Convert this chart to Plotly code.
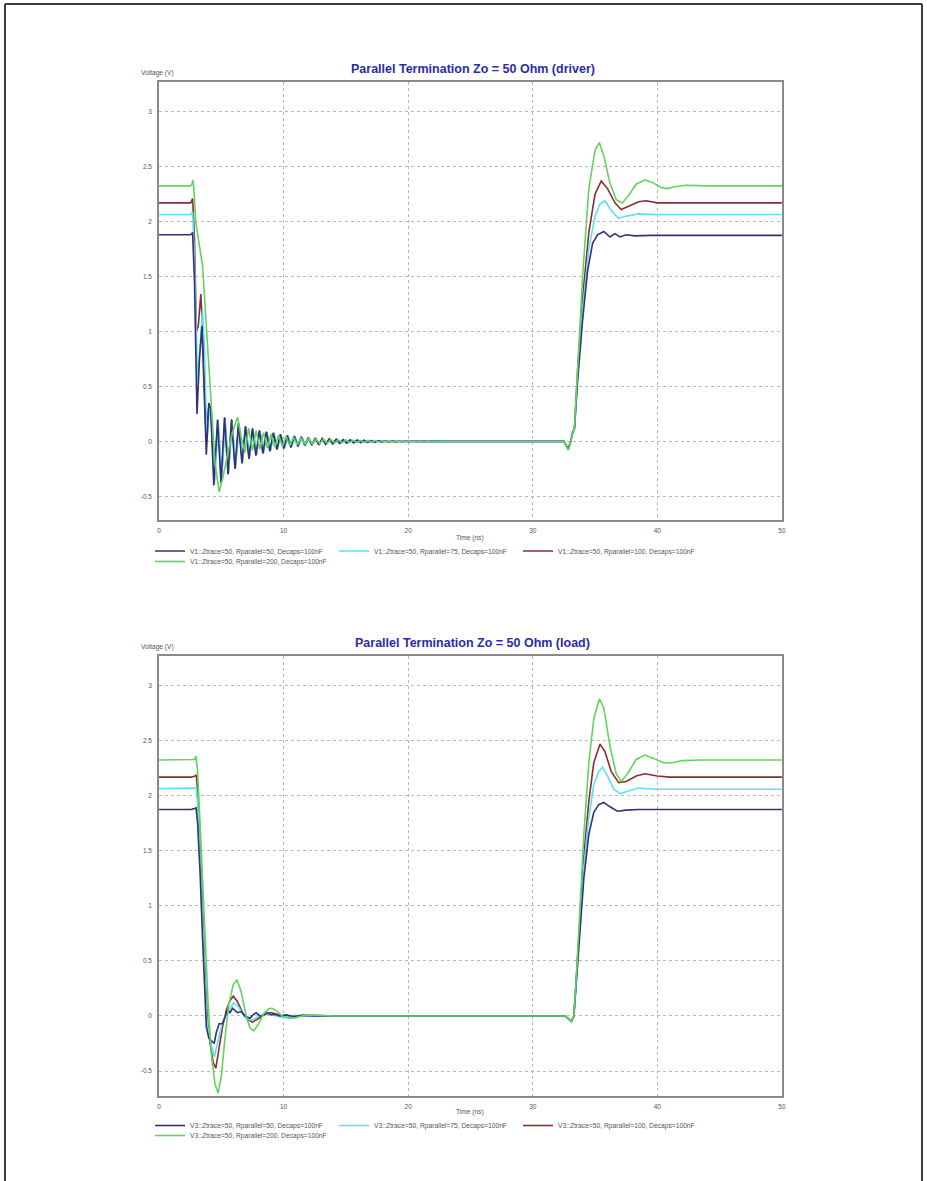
import plotly.graph_objects as go

# ---- Time axis ticks (ns) and voltage ticks (V) ----
X_TICKS = [0, 10, 20, 30, 40, 50]
X_TICK_TEXT = ["0", "10", "20", "30", "40", "50"]
Y_TICKS = [-0.5, 0, 0.5, 1, 1.5, 2, 2.5, 3]
Y_TICK_TEXT = ["-0.5", "0", "0.5", "1", "1.5", "2", "2.5", "3"]

# ---- Driver node (V1) waveforms: (time ns, voltage V) ----
DRV_R50 = [(0, 1.88), (2.55, 1.88), (2.7, 1.9), (2.85, 1.45), (3.05, 0.25), (3.25, 0.75), (3.45, 1.05),
           (3.6, 0.6), (3.8, -0.12), (4.0, 0.35), (4.15, 0.3), (4.4, -0.4), (4.7, 0.2), (4.98, -0.38),
           (5.26, 0.22), (5.54, -0.3), (5.82, 0.2), (6.1, -0.25), (6.38, 0.17), (6.66, -0.2), (6.94, 0.14),
           (7.22, -0.16), (7.5, 0.12), (7.78, -0.13), (8.06, 0.1), (8.34, -0.11), (8.62, 0.09), (8.9, -0.09),
           (9.18, 0.08), (9.46, -0.075), (9.74, 0.065), (10.02, -0.065), (10.3, 0.055), (10.58, -0.055),
           (10.86, 0.05), (11.14, -0.045), (11.42, 0.042), (11.7, -0.04), (11.98, 0.036), (12.26, -0.034),
           (12.54, 0.03), (12.82, -0.03), (13.1, 0.026), (13.38, -0.025), (13.66, 0.022), (13.94, -0.021),
           (14.22, 0.019), (14.5, -0.018), (14.78, 0.016), (15.06, -0.015), (15.34, 0.014), (15.62, -0.013),
           (15.9, 0.012), (16.18, -0.011), (16.46, 0.01), (16.74, -0.009), (17.02, 0.008), (17.3, -0.008),
           (17.58, 0.007), (17.86, -0.006), (18.14, 0.006), (18.42, -0.005), (18.7, 0.005), (18.98, -0.004),
           (19.26, 0.004), (19.54, -0.003), (19.82, 0.003), (20.1, -0.003), (20.38, 0.003), (20.66, -0.002),
           (20.94, 0.002), (21.5, 0.0), (32.5, 0.0),
           (32.85, -0.07), (33.05, 0.0), (33.2, 0.08), (33.35, 0.12), (33.6, 0.55), (34.0, 1.1), (34.4, 1.55),
           (34.8, 1.8), (35.2, 1.88), (35.7, 1.91), (36.2, 1.86), (36.6, 1.89), (37.0, 1.86), (37.5, 1.88),
           (38.2, 1.87), (39.5, 1.875), (50, 1.875)]

DRV_R75 = [(0, 2.065), (2.55, 2.065), (2.7, 2.09), (2.85, 1.65), (3.1, 0.55), (3.35, 1.0), (3.5, 1.2),
           (3.65, 0.85), (3.85, 0.0), (4.05, 0.3), (4.2, 0.28), (4.46, -0.38), (4.76, 0.18), (5.04, -0.34),
           (5.32, 0.19), (5.6, -0.27), (5.88, 0.17), (6.16, -0.22), (6.44, 0.15), (6.72, -0.18), (7.0, 0.12),
           (7.28, -0.14), (7.56, 0.1), (7.84, -0.12), (8.12, 0.09), (8.4, -0.1), (8.68, 0.08), (8.96, -0.08),
           (9.24, 0.07), (9.52, -0.07), (9.8, 0.06), (10.08, -0.06), (10.36, 0.05), (10.64, -0.05),
           (10.92, 0.045), (11.2, -0.04), (11.48, 0.038), (11.76, -0.036), (12.04, 0.032), (12.32, -0.03),
           (12.6, 0.027), (12.88, -0.026), (13.16, 0.023), (13.44, -0.022), (13.72, 0.02), (14.0, -0.019),
           (14.28, 0.017), (14.56, -0.016), (14.84, 0.014), (15.12, -0.013), (15.4, 0.012), (15.68, -0.011),
           (15.96, 0.01), (16.24, -0.009), (16.52, 0.008), (16.8, -0.007), (17.08, 0.006), (17.36, -0.005),
           (17.64, 0.004), (17.92, -0.004), (18.2, 0.003), (18.48, -0.003), (18.76, 0.002), (19.3, 0.0),
           (32.5, 0.0), (32.85, -0.07), (33.05, 0.0), (33.2, 0.08),
           (33.35, 0.12), (33.6, 0.6), (34.0, 1.2), (34.5, 1.75), (35.0, 2.05), (35.4, 2.16), (35.8, 2.19),
           (36.3, 2.1), (36.9, 2.03), (37.5, 2.05), (38.5, 2.07), (40, 2.065), (50, 2.065)]

DRV_R100 = [(0, 2.17), (2.55, 2.17), (2.7, 2.21), (2.85, 1.85), (3.0, 1.0), (3.15, 1.05), (3.36, 1.34),
            (3.52, 0.95), (3.78, 0.05), (4.0, 0.32), (4.18, 0.25), (4.43, -0.36), (4.73, 0.19), (5.01, -0.36),
            (5.29, 0.21), (5.57, -0.29), (5.85, 0.19), (6.13, -0.24), (6.41, 0.16), (6.69, -0.19), (6.97, 0.13),
            (7.25, -0.15), (7.53, 0.11), (7.81, -0.12), (8.09, 0.095), (8.37, -0.1), (8.65, 0.085),
            (8.93, -0.085), (9.21, 0.075), (9.49, -0.07), (9.77, 0.062), (10.05, -0.06), (10.33, 0.052),
            (10.61, -0.052), (10.89, 0.047), (11.17, -0.043), (11.45, 0.04), (11.73, -0.038), (12.01, 0.034),
            (12.29, -0.032), (12.57, 0.028), (12.85, -0.028), (13.13, 0.024), (13.41, -0.023), (13.69, 0.02),
            (13.97, -0.02), (14.25, 0.018), (14.53, -0.017), (14.81, 0.015), (15.09, -0.014), (15.37, 0.013),
            (15.65, -0.012), (15.93, 0.011), (16.21, -0.01), (16.49, 0.009), (16.77, -0.008), (17.05, 0.007),
            (17.33, -0.006), (17.61, 0.005), (18.0, 0.0), (32.5, 0.0), (32.85, -0.07), (33.05, 0.0),
            (33.2, 0.08), (33.35, 0.12), (33.6, 0.65), (34.0, 1.3), (34.5, 1.9), (35.0, 2.25), (35.5, 2.37),
            (36.0, 2.3), (36.6, 2.17), (37.1, 2.11), (37.7, 2.14), (38.5, 2.18), (39.1, 2.19), (40.0, 2.17),
            (50, 2.17)]

DRV_R200 = [(0, 2.325), (2.5, 2.325), (2.65, 2.34), (2.72, 2.38), (2.8, 2.3), (2.95, 2.0), (3.15, 1.85),
            (3.35, 1.72), (3.5, 1.6), (3.8, 1.05), (4.15, 0.4), (4.5, -0.2), (4.83, -0.46), (5.15, -0.32),
            (5.5, -0.12), (5.9, 0.08), (6.3, 0.22), (6.6, 0.04), (6.9, -0.1), (7.2, 0.12), (7.5, -0.08),
            (7.8, 0.1), (8.1, -0.07), (8.4, 0.08), (8.7, -0.06), (9.0, 0.065), (9.3, -0.05), (9.6, 0.055),
            (9.9, -0.045), (10.2, 0.045), (10.5, -0.038), (10.8, 0.038), (11.1, -0.032), (11.4, 0.032),
            (11.7, -0.027), (12.0, 0.027), (12.3, -0.023), (12.6, 0.023), (12.9, -0.02), (13.2, 0.02),
            (13.5, -0.017), (13.8, 0.017), (14.1, -0.015), (14.4, 0.015), (14.7, -0.013), (15.0, 0.013),
            (15.3, -0.011), (15.6, 0.011), (15.9, -0.01), (16.2, 0.01), (16.5, -0.009), (16.8, 0.009),
            (17.1, -0.008), (17.4, 0.008), (17.7, -0.007), (18.0, 0.007), (18.3, -0.006), (18.6, 0.006),
            (18.9, -0.005), (19.2, 0.005), (19.5, -0.004), (19.8, 0.004), (20.1, -0.004), (20.4, 0.004),
            (20.7, -0.003), (21.0, 0.003), (21.3, -0.003), (21.6, 0.003), (21.9, -0.002), (22.2, 0.002),
            (22.5, 0.0), (32.5, 0.0), (32.85, -0.08), (33.05, 0.0), (33.2, 0.08), (33.35, 0.12), (33.6, 0.7),
            (34.0, 1.5), (34.5, 2.3), (35.0, 2.65), (35.35, 2.72), (35.7, 2.6), (36.2, 2.35), (36.7, 2.2),
            (37.2, 2.17), (37.7, 2.24), (38.3, 2.34), (39.0, 2.38), (39.7, 2.35), (40.3, 2.31), (40.8, 2.3),
            (41.5, 2.32), (42.3, 2.33), (44.0, 2.325), (50, 2.325)]

# ---- Load node (V3) waveforms: (time ns, voltage V) ----
LD_R50 = [(0, 1.875), (2.6, 1.875), (2.85, 1.885), (2.98, 1.89), (3.1, 1.75), (3.3, 1.3), (3.5, 0.7),
          (3.65, 0.25), (3.8, -0.1), (4.0, -0.2), (4.2, -0.22), (4.43, -0.25), (4.6, -0.15), (4.83, -0.07),
          (5.1, -0.07), (5.3, 0.0), (5.5, 0.05), (5.7, 0.03), (5.9, 0.07), (6.3, 0.03), (6.6, 0.04),
          (6.9, 0.0), (7.3, -0.02), (7.55, 0.01), (7.8, 0.03), (8.1, 0.0), (8.3, 0.0), (8.7, 0.03),
          (9.0, 0.01), (9.3, 0.015), (9.7, 0.0), (10.2, 0.01), (10.8, -0.005), (11.5, 0.005), (12.5, 0.0),
          (32.6, 0.0), (33.1, -0.05), (33.3, 0.0), (33.5, 0.3), (33.8, 0.8), (34.1, 1.25), (34.5, 1.65),
          (34.9, 1.85), (35.3, 1.92), (35.7, 1.94), (36.2, 1.9), (36.8, 1.86), (37.5, 1.87), (38.5, 1.875),
          (50, 1.875)]

LD_R75 = [(0, 2.065), (2.6, 2.065), (2.9, 2.07), (3.0, 2.07), (3.15, 1.85), (3.35, 1.35), (3.55, 0.75),
          (3.7, 0.3), (3.85, -0.05), (4.05, -0.2), (4.45, -0.37), (4.7, -0.25), (5.0, -0.1), (5.3, 0.0),
          (5.6, 0.05), (6.0, 0.12), (6.4, 0.08), (6.8, 0.0), (7.2, -0.03), (7.5, -0.04), (7.9, -0.01),
          (8.4, 0.02), (8.9, 0.02), (9.4, 0.0), (10.0, -0.01), (10.8, 0.005), (12.0, 0.0), (32.6, 0.0),
          (33.1, -0.05), (33.3, 0.0), (33.5, 0.32), (33.8, 0.85), (34.1, 1.35), (34.5, 1.8), (34.9, 2.1),
          (35.3, 2.22), (35.6, 2.26), (36.0, 2.18), (36.5, 2.06), (37.0, 2.02), (37.6, 2.04), (38.5, 2.07),
          (40.0, 2.06), (50, 2.06)]

LD_R100 = [(0, 2.17), (2.6, 2.17), (2.9, 2.18), (3.0, 2.19), (3.12, 2.0), (3.35, 1.45), (3.55, 0.85),
           (3.7, 0.35), (3.9, -0.05), (4.1, -0.25), (4.35, -0.42), (4.56, -0.475), (4.8, -0.32), (5.1, -0.1),
           (5.4, 0.05), (5.7, 0.14), (5.97, 0.18), (6.3, 0.13), (6.7, 0.03), (7.1, -0.03), (7.5, -0.055),
           (7.9, -0.03), (8.4, 0.01), (9.0, 0.03), (9.6, 0.01), (10.2, -0.01), (10.8, -0.01), (11.5, 0.005),
           (12.5, 0.005), (13.5, 0.0), (32.6, 0.0), (33.1, -0.05), (33.3, 0.0), (33.5, 0.33), (33.8, 0.9),
           (34.1, 1.45), (34.5, 1.95), (34.9, 2.3), (35.4, 2.47), (35.8, 2.4), (36.3, 2.22), (36.9, 2.12),
           (37.5, 2.13), (38.3, 2.18), (39.0, 2.2), (40.0, 2.18), (41.0, 2.17), (50, 2.17)]

LD_R200 = [(0, 2.325), (2.6, 2.325), (2.85, 2.33), (2.96, 2.36), (3.08, 2.25), (3.3, 1.75), (3.55, 1.1),
           (3.75, 0.55), (3.95, 0.1), (4.2, -0.35), (4.5, -0.62), (4.75, -0.7), (5.0, -0.55), (5.3, -0.2),
           (5.6, 0.1), (5.95, 0.28), (6.25, 0.33), (6.6, 0.22), (7.0, 0.0), (7.3, -0.11), (7.6, -0.135),
           (7.95, -0.08), (8.4, 0.02), (8.8, 0.065), (9.1, 0.07), (9.5, 0.04), (10.0, -0.01), (10.5, -0.02),
           (11.0, -0.015), (11.6, 0.005), (12.3, 0.01), (13.0, 0.005), (14.0, 0.0), (32.6, 0.0),
           (33.1, -0.05), (33.3, 0.0), (33.5, 0.35), (33.8, 1.0), (34.1, 1.65), (34.5, 2.3), (34.9, 2.7),
           (35.35, 2.88), (35.7, 2.8), (36.2, 2.45), (36.7, 2.2), (37.1, 2.13), (37.6, 2.2), (38.3, 2.33),
           (39.0, 2.37), (39.7, 2.34), (40.5, 2.3), (41.2, 2.3), (42.0, 2.32), (43.5, 2.325), (50, 2.325)]

COLORS = ["#33317a", "#5fe0ee", "#8c2c34", "#63d35f"]
RPARALLEL = ["50", "75", "100", "200"]
# stacking order of the curves (last drawn on top); legend keeps the Rparallel order
DRAW_ORDER = [2, 1, 0, 3]

W, H = 927, 1181
FONT = "Liberation Sans"
TITLE_BLUE = "#2b2ba8"
LABEL_GRAY = "#555555"


def px_x(p):
    return p / W


def px_y(p):
    return 1 - p / H


fig = go.Figure()

panels = [
    ("x", "y", "V1", [DRV_R50, DRV_R75, DRV_R100, DRV_R200], ("legend", "legend2")),
    ("x2", "y2", "V3", [LD_R50, LD_R75, LD_R100, LD_R200], ("legend3", "legend4")),
]

for xa, ya, node, series, legs in panels:
    for i in DRAW_ORDER:
        pts = series[i]
        fig.add_trace(go.Scatter(
            x=[p[0] for p in pts], y=[p[1] for p in pts],
            mode="lines", line=dict(color=COLORS[i], width=1.6),
            name=f"{node}::Ztrace=50, Rparallel={RPARALLEL[i]}, Decaps=100nF",
            xaxis=xa, yaxis=ya, legendrank=i + 1,
            legend=legs[0] if i < 3 else legs[1],
            hoverinfo="skip",
        ))

axis_common = dict(
    showline=True, mirror=True, linecolor="#8a8a8a", linewidth=1.5,
    showgrid=True, gridcolor="#b8b8b8", griddash="dot", gridwidth=1,
    zeroline=False, ticks="", tickfont=dict(family=FONT, size=6.5, color=LABEL_GRAY),
    fixedrange=True,
)
x_dom = [px_x(158), px_x(785)]

fig.update_layout(
    xaxis=dict(domain=x_dom, range=[0, 50], tickvals=X_TICKS, ticktext=X_TICK_TEXT,
               anchor="y", ticklabelstandoff=3, **axis_common),
    yaxis=dict(domain=[px_y(520), px_y(82)], range=[-0.715, 3.27], tickvals=Y_TICKS,
               ticktext=Y_TICK_TEXT, anchor="x", ticklabelstandoff=4, **axis_common),
    xaxis2=dict(domain=x_dom, range=[0, 50], tickvals=X_TICKS, ticktext=X_TICK_TEXT,
                anchor="y2", ticklabelstandoff=3, **axis_common),
    yaxis2=dict(domain=[px_y(1096), px_y(656)], range=[-0.727, 3.27], tickvals=Y_TICKS,
                ticktext=Y_TICK_TEXT, anchor="x2", ticklabelstandoff=4, **axis_common),
)

legend_common = dict(
    orientation="h", xanchor="left", yanchor="middle", bgcolor="rgba(0,0,0,0)",
    font=dict(family=FONT, size=6.7, color=LABEL_GRAY), itemwidth=30,
    entrywidth=139, entrywidthmode="pixels", tracegroupgap=0, itemclick=False,
    itemdoubleclick=False, traceorder="normal",
)
fig.update_layout(
    legend=dict(x=px_x(149), y=px_y(551), **legend_common),
    legend2=dict(x=px_x(149), y=px_y(561.5), **legend_common),
    legend3=dict(x=px_x(149), y=px_y(1125.5), **legend_common),
    legend4=dict(x=px_x(149), y=px_y(1135.5), **legend_common),
)

annotations = []
for title, ty, vy, xy in [("Parallel Termination Zo = 50 Ohm (driver)", 69, 73, 538),
                          ("Parallel Termination Zo = 50 Ohm (load)", 643, 647, 1112)]:
    annotations.append(dict(text=f"<b>{title}</b>", x=px_x(474), y=px_y(ty), xref="paper", yref="paper",
                            showarrow=False, xanchor="center", yanchor="middle",
                            font=dict(family=FONT, size=12.5, color=TITLE_BLUE)))
    annotations.append(dict(text="Voltage (V)", x=px_x(138), y=px_y(vy), xref="paper", yref="paper",
                            showarrow=False, xanchor="left", yanchor="middle",
                            font=dict(family=FONT, size=6.6, color=LABEL_GRAY)))
    annotations.append(dict(text="Time (ns)", x=px_x(471), y=px_y(xy), xref="paper", yref="paper",
                            showarrow=False, xanchor="center", yanchor="middle",
                            font=dict(family=FONT, size=6.6, color=LABEL_GRAY)))

# page frame (left, top, right edges)
frame = dict(type="line", xref="paper", yref="paper", line=dict(color="#3c3c3c", width=2))
shapes = [
    dict(x0=px_x(3), x1=px_x(3), y0=0, y1=px_y(4), **frame),
    dict(x0=px_x(3), x1=px_x(926), y0=px_y(4), y1=px_y(4), **frame),
    dict(x0=px_x(926), x1=px_x(926), y0=0, y1=px_y(4), **frame),
]

fig.update_layout(
    width=W, height=H, margin=dict(l=0, r=0, t=0, b=0),
    paper_bgcolor="white", plot_bgcolor="white",
    annotations=annotations, shapes=shapes, showlegend=True,
    font=dict(family=FONT),
)

fig.write_html("out.html", config={"displayModeBar": False})
